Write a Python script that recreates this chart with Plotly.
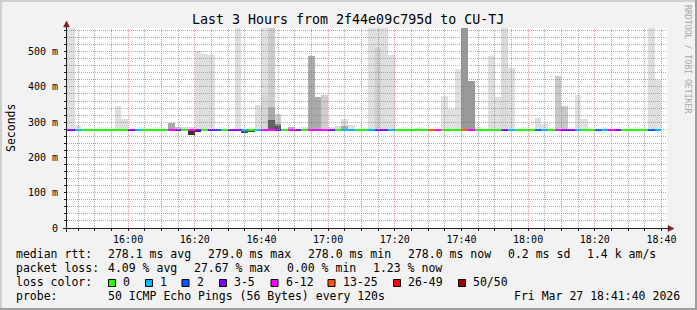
import pandas as pd
import plotly.graph_objects as go

# ---------------- data ----------------
N = None
# end times of the 120 s RRD steps (90 steps)
step_end = pd.date_range("2026-03-27 15:42:00", periods=90, freq="2min")
view_start = pd.Timestamp("2026-03-27 15:41:40")
view_end = pd.Timestamp("2026-03-27 18:41:40")

# median rtt (ms)
median_ms = [
    278.0, 278.0, 278.0, 278.0, 278.0, 278.0, 278.0, 278.0, 278.1, 278.0,
    278.0, 278.0, 278.0, 278.0, 278.0, 278.0, 278.3, 278.1, 278.0, 278.0,
    278.2, 278.0, 278.0, 278.0, 278.0, 278.0, 278.1, 278.0, 278.0, 278.0,
    278.2, 279.0, 278.3, 278.0, 278.1, 278.0, 278.0, 278.6, 278.2, 278.1,
    278.0, 278.0, 278.0, 278.0, 278.0, 278.0, 278.1, 278.0, 278.0, 278.0,
    278.0, 278.0, 278.0, 278.0, 278.0, 278.0, 278.1, 278.0, 278.0, 278.0,
    278.5, 278.2, 278.0, 278.0, 278.0, 278.0, 278.1, 278.0, 278.0, 278.0,
    278.0, 278.0, 278.0, 278.0, 278.2, 278.1, 278.0, 278.0, 278.0, 278.0,
    278.0, 278.0, 278.1, 278.0, 278.0, 278.0, 278.0, 278.0, 278.0, 278.0,
]

# lost pings out of 50 per step
loss_pings = [
    3, 3, 1, 0, 0, 0, 0, 0, 0, 0,
    3, 1, 0, 0, 0, 0, 7, 3, 0, 7,
    3, 0, 3, 2, 0, 3, 3, 1, 0, 1,
    7, 7, 3, 0, 7, 3, 0, 7, 7, 7,
    3, 0, 1, 1, 0, 0, 1, 3, 3, 1,
    0, 0, 0, 0, 0, 14, 7, 0, 0, 0,
    14, 7, 0, 0, 0, 0, 3, 1, 0, 0,
    0, 2, 1, 0, 7, 3, 3, 1, 0, 0,
    2, 1, 7, 3, 0, 0, 0, 0, 2, 1,
]

# smoke: max ping (ms) and its grey level
smoke_max = [
    580, 580, 291, N, N, N, N, N, 345, 309,
    N, N, N, N, N, N, 298, 287, 285, 285,
    501, 494, 490, N, N, N, 580, N, N, 348,
    580, 580, 323, N, 285, N, 287, 488, 372, 378,
    287, 289, 309, 292, N, N, 580, 580, 580, 490,
    N, N, N, 283, N, N, N, 374, 336, 452,
    580, 416, 287, N, 487, 371, 580, 453, N, N,
    N, 312, 295, N, 431, 345, N, 378, 310, N,
    N, 283, N, N, N, N, N, N, 580, 420,
]
smoke_grey = [
    222, 222, 222, N, N, N, N, N, 222, 222,
    N, N, N, N, N, N, 170, 190, 220, 222,
    222, 222, 222, N, N, N, 222, N, N, 222,
    224, 205, 205, N, 180, N, 222, 170, 170, 205,
    222, 222, 222, 222, N, N, 222, 222, 222, 222,
    N, N, N, 222, N, N, N, 225, 225, 225,
    153, 153, 222, N, 222, 222, 218, 222, N, N,
    N, 222, 225, N, 200, 200, N, 225, 225, N,
    N, 225, N, N, N, N, N, N, 222, 222,
]
# denser inner smoke bands (ms top, grey level)
core1_max = [N] * 30 + [377, 342, 296] + [N] * 9 + [288] + [N] * 4 + [509] + [N] * 42
core1_grey = [N] * 30 + [214, 170, 136] + [N] * 9 + [170] + [N] * 4 + [208] + [N] * 42
core2_max = [N] * 31 + [305, 288] + [N] * 57
core2_grey = [N] * 31 + [96, 85] + [N] * 57
# smoke below the median (min ping, grey level)
smoke_min = [N] * 19 + [264, 272] + [N] * 6 + [268, 274] + [N] * 61
low_grey = [N] * 19 + [51, 51] + [N] * 6 + [85, 68] + [N] * 61

loss_bins = ["0", "1", "2", "3-5", "6-12", "13-25", "26-49", "50/50"]
loss_bin_upper = [0, 1, 2, 5, 12, 25, 49, 50]
loss_colors = ["#26ff00", "#00b8ff", "#0059ff", "#7e00ff", "#ff00ff", "#ff5500", "#ff0000", "#a00000"]

y_ticks = [0, 100, 200, 300, 400, 500]
y_ticktext = ["0", "100 m", "200 m", "300 m", "400 m", "500 m"]

title = "Last 3 Hours from 2f44e09c795d to CU-TJ"
stats_rtt = ["median rtt:", "278.1 ms avg", "279.0 ms max", "278.0 ms min", "278.0 ms now", "0.2 ms sd", "1.4 k am/s"]
stats_loss = ["packet loss:", "4.09 % avg", "27.67 % max", "0.00 % min", "1.23 % now"]
probe_text = ["probe:", "50 ICMP Echo Pings (56 Bytes) every 120s"]
stamp = "Fri Mar 27 18:41:40 2026"

# ---------------- geometry ----------------
W, H = 697, 310
PL, PT, PW, PH = 67, 28, 600, 200
Y_TOP = 567.0
MONO = "DejaVu Sans Mono"
LEG_SIZE = 11.5
CHAR_W = 0.6 * LEG_SIZE
ITEM_GAP = 17.2
STEP_MS = 120000
centers = step_end - pd.Timedelta(minutes=1)


def px(x):
    return (x - PL) / PW


def py(y):
    return (PT + PH - y) / PH


def grey(g):
    return f"rgb({g},{g},{g})"


def loss_color(n):
    for ub, c in zip(loss_bin_upper, loss_colors):
        if n <= ub:
            return c
    return loss_colors[-1]


def t2px(t):
    return PL + (t - view_start) / (view_end - view_start) * PW


def v2py(v):
    return PT + PH - v / Y_TOP * PH


fig = go.Figure()


def add_band(tops, greys, below=False):
    xs, bases, hs, cols = [], [], [], []
    for i in range(len(centers)):
        if tops[i] is None:
            continue
        xs.append(centers[i])
        if below:
            bases.append(tops[i])
            hs.append(median_ms[i] - tops[i])
        else:
            bases.append(median_ms[i])
            hs.append(tops[i] - median_ms[i])
        cols.append(grey(greys[i]))
    fig.add_trace(go.Bar(x=xs, y=hs, base=bases, width=STEP_MS,
                         marker=dict(color=cols, line=dict(width=0)),
                         hoverinfo="skip", showlegend=False))


add_band(smoke_max, smoke_grey)
add_band(core1_max, core1_grey)
add_band(core2_max, core2_grey)
add_band(smoke_min, low_grey, below=True)

# median line, coloured by loss (2 px thick)
thick = 2 * Y_TOP / PH
fig.add_trace(go.Bar(
    x=list(centers), y=[thick] * len(median_ms), base=[m - thick / 2 for m in median_ms],
    width=STEP_MS, marker=dict(color=[loss_color(n) for n in loss_pings], line=dict(width=0)),
    hoverinfo="skip", showlegend=False))

fig.update_layout(
    width=W, height=H,
    margin=dict(l=PL, r=W - PL - PW, t=PT, b=H - PT - PH, pad=0),
    paper_bgcolor="#f2f2f2", plot_bgcolor="#ffffff",
    barmode="overlay", bargap=0, showlegend=False,
    font=dict(family=MONO, size=10, color="#000000"),
    xaxis=dict(
        type="date", range=[view_start, view_end], tickformat="%H:%M",
        tick0="2026-03-27 16:00:00", dtick=20 * 60000,
        showgrid=False,
        ticks="outside", ticklen=2, tickcolor="#1f1f1f", tickwidth=1,
        minor=dict(dtick=5 * 60000, tick0="2026-03-27 16:00:00", showgrid=False,
                   ticks="outside", ticklen=2, tickcolor="#1f1f1f"),
        zeroline=False, showline=False, fixedrange=True,
        tickfont=dict(family=MONO, size=10),
    ),
    yaxis=dict(
        range=[0, Y_TOP], tickmode="array", tickvals=y_ticks, ticktext=y_ticktext,
        showgrid=False,
        ticks="outside", ticklen=2, tickcolor="#1f1f1f",
        minor=dict(dtick=20, tick0=0, showgrid=False, ticks="outside", ticklen=2,
                   tickcolor="#1f1f1f"),
        zeroline=False, showline=False, fixedrange=True,
        ticklabelstandoff=4,
        tickfont=dict(family=MONO, size=10),
    ),
)

shapes = []
# grid drawn on top of the smoke (as rrdtool does), snapped to pixel centres
grid_minor = "rgba(143,143,143,0.75)"
grid_major = "rgba(222,79,79,0.6)"
dash = "1px,1px"
for t in pd.date_range("2026-03-27 15:45:00", "2026-03-27 18:40:00", freq="5min"):
    major = (t.minute % 20 == 0)
    xg = round(t2px(t) - 0.5) + 0.5
    shapes.append(dict(type="line", xref="paper", yref="paper", x0=px(xg), x1=px(xg),
                       y0=py(PT + PH), y1=py(PT),
                       line=dict(color=grid_major if major else grid_minor, width=1, dash=dash),
                       layer="above"))
for v in range(20, 561, 20):
    major = (v % 100 == 0)
    yg = round(v2py(v) - 0.5) + 0.5
    shapes.append(dict(type="line", xref="paper", yref="paper", x0=px(PL), x1=px(PL + PW),
                       y0=py(yg), y1=py(yg),
                       line=dict(color=grid_major if major else grid_minor, width=1, dash=dash),
                       layer="above"))

# frame (shade A top/left, shade B bottom/right)
shapes.append(dict(type="rect", xref="paper", yref="paper", x0=px(0), x1=px(W), y0=py(0), y1=py(2),
                   fillcolor="#cfcfcf", line=dict(width=0), layer="above"))
shapes.append(dict(type="rect", xref="paper", yref="paper", x0=px(0), x1=px(2), y0=py(0), y1=py(H),
                   fillcolor="#cfcfcf", line=dict(width=0), layer="above"))
shapes.append(dict(type="rect", xref="paper", yref="paper", x0=px(0), x1=px(W), y0=py(H - 2), y1=py(H),
                   fillcolor="#9e9e9e", line=dict(width=0), layer="above"))
shapes.append(dict(type="rect", xref="paper", yref="paper", x0=px(W - 2), x1=px(W), y0=py(0), y1=py(H),
                   fillcolor="#9e9e9e", line=dict(width=0), layer="above"))
# axes
axis_col = "#1f1f1f"
shapes.append(dict(type="line", xref="paper", yref="paper", x0=px(63), x1=px(669), y0=py(228.5), y1=py(228.5),
                   line=dict(color=axis_col, width=1), layer="above"))
shapes.append(dict(type="line", xref="paper", yref="paper", x0=px(66.5), x1=px(66.5), y0=py(232), y1=py(26),
                   line=dict(color=axis_col, width=1), layer="above"))
arrow_col = "#801f1f"
shapes.append(dict(type="path", xref="paper", yref="paper",
                   path=f"M {px(668)},{py(225.5)} L {px(674)},{py(228.5)} L {px(668)},{py(231.5)} Z",
                   fillcolor=arrow_col, line=dict(color=arrow_col, width=0.5), layer="above"))
shapes.append(dict(type="path", xref="paper", yref="paper",
                   path=f"M {px(63.5)},{py(27)} L {px(66.5)},{py(21)} L {px(69.5)},{py(27)} Z",
                   fillcolor=arrow_col, line=dict(color=arrow_col, width=0.5), layer="above"))

# loss colour legend boxes
box_x = [108, 145, 181.5, 219, 270.5, 327.5, 393, 458]
for bx, col in zip(box_x, loss_colors):
    shapes.append(dict(type="rect", xref="paper", yref="paper",
                       x0=px(bx + 0.5), x1=px(bx + 7.5), y0=py(279.5), y1=py(286.5),
                       fillcolor=col, line=dict(color="#000000", width=1), layer="above"))
fig.update_layout(shapes=shapes)

ann = []


def text(x, y, s, size=LEG_SIZE, anchor="left", color="#000000", angle=0):
    ann.append(dict(xref="paper", yref="paper", x=px(x), y=py(y), text=s, showarrow=False,
                    xanchor=anchor, yanchor="middle", textangle=angle, borderpad=0,
                    font=dict(family=MONO, size=size, color=color)))


text(348, 19, title, size=13.3, anchor="center")
text(11, 128, "Seconds", size=LEG_SIZE, anchor="center", angle=-90)
text(688, 59, "RRDTOOL / TOBI OETIKER", size=8.2, anchor="center", color="#a8a8a8", angle=90)

# legend rows: items laid out left to right with a fixed gap, like rrdtool
LABEL_X = 15
VALUE_X = 106.5


def row(items, y):
    text(LABEL_X, y, items[0])
    x = VALUE_X
    for s in items[1:]:
        text(x, y, s)
        x += len(s) * CHAR_W + ITEM_GAP


row(stats_rtt, 254)
row(stats_loss, 268)
text(LABEL_X, 282, "loss color:")
for bx, lab in zip(box_x, loss_bins):
    text(bx + 14, 282, lab)
text(LABEL_X, 296, probe_text[0])
text(VALUE_X, 296, probe_text[1])
text(512.5, 296, stamp)
fig.update_layout(annotations=ann)

fig.write_html("out.html", config={"displayModeBar": False})
